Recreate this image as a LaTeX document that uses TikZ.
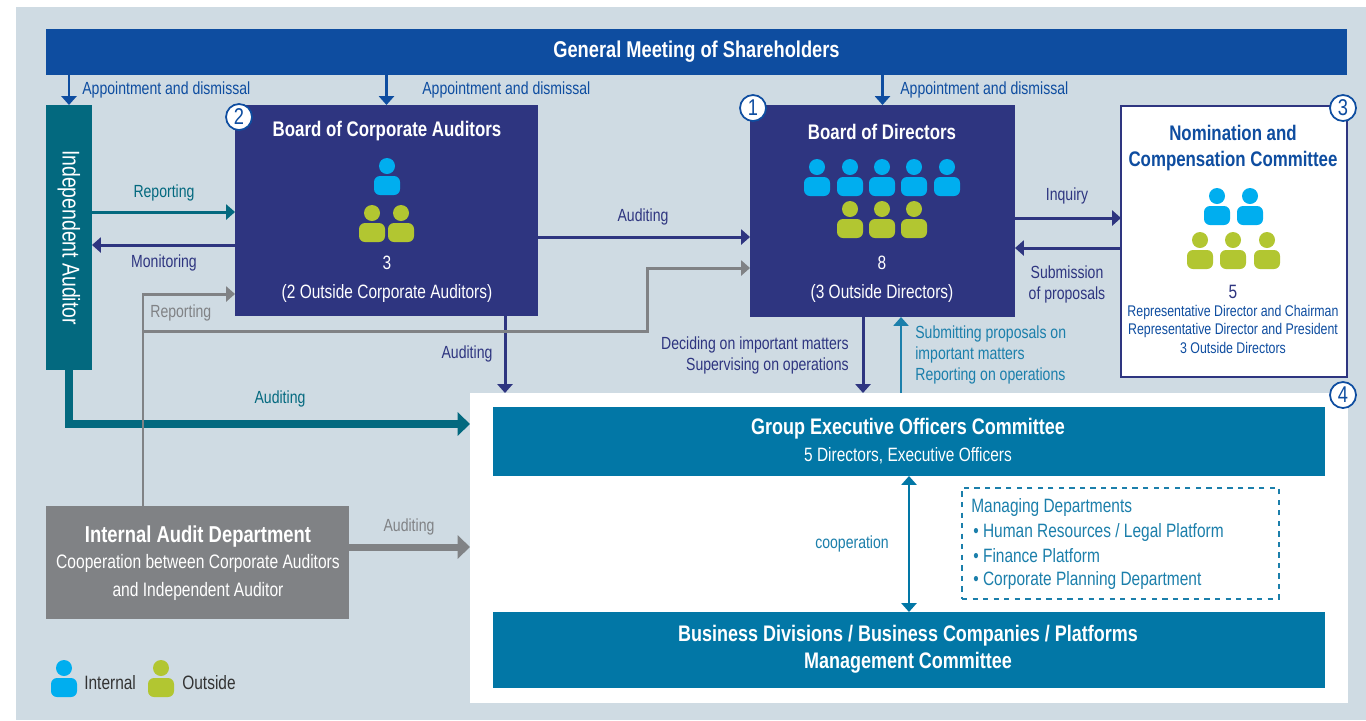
\documentclass[tikz,border=0pt]{standalone}
\usepackage{fontspec}
\setmainfont{Liberation Sans}[FakeStretch=0.8]
\usetikzlibrary{arrows.meta}
\definecolor{hgrund}{HTML}{CFDBE3}
\definecolor{hvblau}{HTML}{0E4DA0}
\definecolor{marine}{HTML}{2E3580}
\definecolor{petrol}{HTML}{03697F}
\definecolor{ozean}{HTML}{0277A6}
\definecolor{grau}{HTML}{808285}
\definecolor{intern}{HTML}{00AEEF}
\definecolor{extern}{HTML}{B2C631}
\definecolor{hellblau}{HTML}{1B7FAB}
\definecolor{dunkel}{HTML}{333333}

\def\s{0.02}
\def\pkt#1#2{({(#1)*\s},{-(#2)*\s})}
\def\kasten#1#2#3#4#5#6{
	\node[kasten,#6,minimum width={(#4-#2)*\s cm},minimum height={(#5-#3)*\s cm}] (#1) at \pkt{#2}{#3} {};
}
\def\figur#1#2#3{
	\fill[#3] \pkt{#1}{#2} circle ({8*\s});
	\fill[#3,rounded corners=0.12cm] \pkt{#1-13}{#2+29} -- \pkt{#1-13}{#2+10}
		-- \pkt{#1+13}{#2+10} -- \pkt{#1+13}{#2+29} -- cycle;
}

\begin{document}
\begin{tikzpicture}[>={Triangle[length=5pt,width=8.5pt]},
	kasten/.style={anchor=north west,inner sep=0pt,outer sep=0pt},
	titel/.style={inner sep=0pt,text=white,font=\fontsize{12}{14}\selectfont\bfseries},
	gross/.style={inner sep=0pt,text=white,font=\fontsize{12.8}{14}\selectfont\bfseries},
	mittel/.style={inner sep=0pt,text=white,font=\fontsize{11}{12}\selectfont},
	klein/.style={inner sep=0pt,font=\fontsize{10}{12}\selectfont},
	winzig/.style={inner sep=0pt,text=hvblau,font=\fontsize{8.8}{10}\selectfont},
	nummer/.style={circle,draw=hvblau,fill=white,line width=1pt,minimum size=0.52cm,inner sep=0pt,text=hvblau,font=\fontsize{13}{13}\selectfont},
	pfeil/.style={->,line width=1.7pt},
	dick/.style={-{Triangle[length=7pt,width=13pt]},line width=4pt}]
\useasboundingbox \pkt{0}{0} rectangle \pkt{1366}{720};
\fill[white] \pkt{0}{0} rectangle \pkt{1366}{720};
\fill[hgrund] \pkt{16}{7} rectangle \pkt{1366}{720};

\kasten{gm}{46}{29}{1347}{75}{fill=hvblau}
\kasten{ia}{46}{105}{92}{370}{fill=petrol}
\kasten{bca}{235}{105}{538}{316}{fill=marine}
\kasten{bod}{750}{105}{1015}{317}{fill=marine}
\kasten{ncc}{1121}{106}{1347}{377}{fill=white,draw=marine,line width=1.2pt}
\kasten{ebene}{470}{393}{1348}{703}{fill=white}
\kasten{gec}{493}{407}{1325}{476}{fill=ozean}
\kasten{bdiv}{493}{612}{1325}{688}{fill=ozean}
\kasten{mgd}{962}{488}{1279}{599}{draw=hellblau,dashed,line width=0.7pt}
\kasten{iad}{46}{506}{349}{619}{fill=grau}

\node[gross,font=\fontsize{13}{15}\selectfont\bfseries] (gmt) at (gm) {General Meeting of Shareholders};
\node[mittel,font=\fontsize{13.8}{15}\selectfont,rotate=-90] (iat) at (ia) {Independent Auditor};

\node[titel] (bcat) at \pkt{387}{131} {Board of Corporate Auditors};
\figur{387}{166}{intern}
\figur{372}{213}{extern}
\figur{401}{213}{extern}
\node[mittel] (bcaz) at \pkt{387}{263} {3};
\node[mittel] (bcau) at \pkt{387}{293} {(2 Outside Corporate Auditors)};

\node[titel] (bodt) at \pkt{882}{132} {Board of Directors};
\foreach \x in {817,850,882,914,947}{
	\figur{\x}{167}{intern}
}
\foreach \x in {850,882,914}{
	\figur{\x}{209}{extern}
}
\node[mittel] (bodz) at \pkt{882}{263} {8};
\node[mittel] (bodu) at \pkt{882}{293} {(3 Outside Directors)};

\node[titel,text=hvblau] (ncct) at \pkt{1233}{133} {Nomination and};
\node[titel,text=hvblau] (ncck) at \pkt{1233}{161} {Compensation Committee};
\figur{1217}{196}{intern}
\figur{1250}{196}{intern}
\figur{1200}{240}{extern}
\figur{1233}{240}{extern}
\figur{1267}{240}{extern}
\node[mittel,text=marine] (nccz) at \pkt{1233}{292} {5};
\node[winzig] (ncc1) at \pkt{1233}{312} {Representative Director and Chairman};
\node[winzig] (ncc2) at \pkt{1233}{330} {Representative Director and President};
\node[winzig] (ncc3) at \pkt{1233}{348} {3 Outside Directors};

\node[gross] (gect) at \pkt{908}{429} {Group Executive Officers Committee};
\node[mittel] (gecu) at \pkt{908}{456} {5 Directors, Executive Officers};
\node[gross] (bdivt) at \pkt{908}{636} {Business Divisions / Business Companies / Platforms};
\node[gross] (bdivu) at \pkt{908}{663} {Management Committee};

\node[mittel,text=hellblau,anchor=west] (mgd0) at \pkt{971}{507} {Managing Departments};
\node[mittel,text=hellblau,anchor=west] (mgd1) at \pkt{973}{532} {\textbullet\ Human Resources / Legal Platform};
\node[mittel,text=hellblau,anchor=west] (mgd2) at \pkt{973}{556} {\textbullet\ Finance Platform};
\node[mittel,text=hellblau,anchor=west] (mgd3) at \pkt{973}{580} {\textbullet\ Corporate Planning Department};

\node[gross,font=\fontsize{13.1}{15}\selectfont\bfseries] (iadt) at \pkt{198}{537} {Internal Audit Department};
\node[mittel,font=\fontsize{11.1}{13}\selectfont] (iad1) at \pkt{198}{563} {Cooperation between Corporate Auditors};
\node[mittel,font=\fontsize{11.1}{13}\selectfont] (iad2) at \pkt{198}{591} {and Independent Auditor};

\node[nummer] (nr1) at \pkt{753}{108} {1};
\node[nummer] (nr2) at \pkt{239}{117} {2};
\node[nummer] (nr3) at \pkt{1343}{108} {3};
\node[nummer] (nr4) at \pkt{1343}{395} {4};

\path \pkt{0}{212} coordinate (h1);
\path \pkt{0}{245} coordinate (h2);
\path \pkt{0}{237} coordinate (h3);
\path \pkt{0}{218} coordinate (h4);
\path \pkt{0}{248} coordinate (h5);
\path \pkt{0}{424} coordinate (h6);
\path \pkt{0}{547} coordinate (h7);
\path \pkt{143}{294} coordinate (g1);
\path \pkt{143}{331} coordinate (g2);
\path \pkt{647}{268} coordinate (g3);
\path \pkt{505}{0} coordinate (v1);
\path \pkt{863}{0} coordinate (v2);
\path \pkt{901}{0} coordinate (v3);

\draw[pfeil,hvblau] (gm.south -| ia.north) -- (ia.north);
\draw[pfeil,hvblau] (gm.south -| bca.north) -- (bca.north);
\draw[pfeil,hvblau] (gm.south -| bod.north) -- (bod.north);
\draw[pfeil,petrol] (ia.east |- h1) -- (bca.west |- h1);
\draw[pfeil,marine] (bca.west |- h2) -- (ia.east |- h2);
\draw[pfeil,marine] (bca.east |- h3) -- (bod.west |- h3);
\draw[pfeil,marine] (bod.east |- h4) -- (ncc.west |- h4);
\draw[pfeil,marine] (ncc.west |- h5) -- (bod.east |- h5);
\draw[pfeil,marine] (bca.south -| v1) -- (ebene.north -| v1);
\draw[pfeil,marine] (bod.south -| v2) -- (ebene.north -| v2);
\draw[pfeil,hellblau,line width=1.2pt] (ebene.north -| v3) -- (bod.south -| v3);
\draw[dick,petrol] (ia.south) |- (ebene.west |- h6);
\draw[pfeil,grau] (iad.north -| g1) -- (g1) -- (bca.west |- g1);
\draw[pfeil,grau] (g2) -| (g3) -- (bod.west |- g3);
\draw[dick,grau] (iad.east |- h7) -- (ebene.west |- h7);
\draw[pfeil,ozean,<->] (gec.south) -- (bdiv.north);

\node[klein,text=hvblau,anchor=west] (l1) at \pkt{82}{90} {Appointment and dismissal};
\node[klein,text=hvblau,anchor=west] (l2) at \pkt{422}{90} {Appointment and dismissal};
\node[klein,text=hvblau,anchor=west] (l3) at \pkt{900}{90} {Appointment and dismissal};
\node[klein,text=petrol] (l4) at \pkt{164}{193} {Reporting};
\node[klein,text=marine] (l5) at \pkt{164}{263} {Monitoring};
\node[klein,text=grau,anchor=west] (l6) at \pkt{150}{313} {Reporting};
\node[klein,text=marine] (l7) at \pkt{643}{217} {Auditing};
\node[klein,text=marine] (l8) at \pkt{467}{354} {Auditing};
\node[klein,text=marine,anchor=east,align=right] (l9) at \pkt{849}{355} {Deciding on important matters\\Supervising on operations};
\node[klein,text=hellblau,anchor=west,align=left] (l10) at \pkt{915}{355} {Submitting proposals on\\important matters\\Reporting on operations};
\node[klein,text=marine] (l11) at \pkt{1067}{196} {Inquiry};
\node[klein,text=marine,align=center] (l12) at \pkt{1067}{284} {Submission\\of proposals};
\node[klein,text=petrol] (l13) at \pkt{280}{399} {Auditing};
\node[klein,text=grau] (l14) at \pkt{409}{527} {Auditing};
\node[klein,text=hellblau] (l15) at \pkt{852}{544} {cooperation};

\figur{64}{668}{intern}
\node[mittel,text=dunkel,anchor=west] (leg1) at \pkt{84}{683} {Internal};
\figur{161}{668}{extern}
\node[mittel,text=dunkel,anchor=west] (leg2) at \pkt{182}{683} {Outside};
\end{tikzpicture}
\end{document}
